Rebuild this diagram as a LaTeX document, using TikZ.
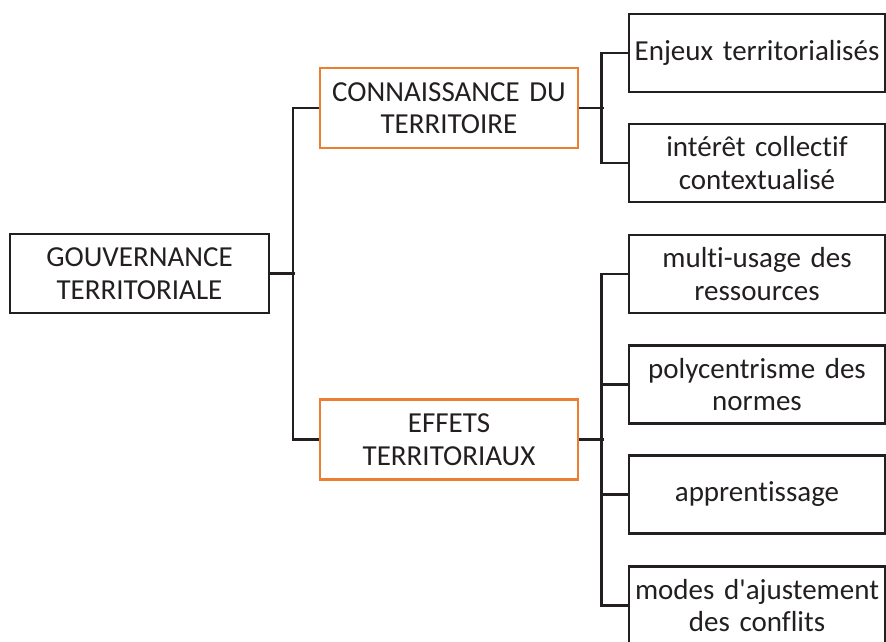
\documentclass[tikz,border=0pt]{standalone}
\usepackage{fontspec}
\setmainfont{Carlito}[Ligatures={TeXOff,CommonOff},WordSpace=0.8]
\definecolor{ink}{RGB}{35,31,32}
\definecolor{orng}{RGB}{237,125,49}
\begin{document}
\begin{tikzpicture}[x=1pt,y=-1pt,
  box/.style={draw=ink,line width=2.6pt,text=ink,align=center,inner sep=0pt,
    font=\fontsize{29}{32.5}\selectfont},
  rootbox/.style={box,minimum width=259pt,minimum height=79pt,text width=259pt},
  midbox/.style={box,draw=orng,line width=2.2pt,minimum width=258pt,minimum height=80pt,text width=258pt},
  leafbox/.style={box,minimum width=256pt,minimum height=78pt,text width=256pt},
  link/.style={draw=ink,line width=2.6pt}]
\useasboundingbox (0,0) rectangle (886,642);
\clip (0,0) rectangle (886,642);
\node[rootbox] (root) at (139.5,273.5) {GOUVERNANCE\\TERRITORIALE};
\node[midbox] (conn) at (449,108) {CONNAISSANCE DU\\TERRITOIRE};
\node[midbox] (eff) at (449,439.5) {EFFETS\\TERRITORIAUX};
\node[leafbox] (enj) at (757,53) {Enjeux territorialisés};
\node[leafbox] (int) at (757,163) {intérêt collectif\\contextualisé};
\node[leafbox] (mul) at (757,274) {multi-usage des\\ressources};
\node[leafbox] (pol) at (757,384.5) {polycentrisme des\\normes};
\node[leafbox] (app) at (757,494.5) {apprentissage};
\node[leafbox] (mod) at (757,605.5) {modes d'ajustement\\des conflits};
% left bus
\draw[link] (root.east) -- ++(25,0);
\draw[link] (conn.west) -- ++(-26,0) |- (eff.west);
% upper right bus
\draw[link] (conn.east) -- ++(25,0);
\draw[link] (enj.west) -- ++(-26,0) |- (int.west);
% lower right bus
\draw[link] (eff.east) -- ++(25,0);
\draw[link] (mul.west) -- ++(-26,0) |- (mod.west);
\draw[link] (pol.west) -- ++(-26,0);
\draw[link] (app.west) -- ++(-26,0);
\end{tikzpicture}
\end{document}
